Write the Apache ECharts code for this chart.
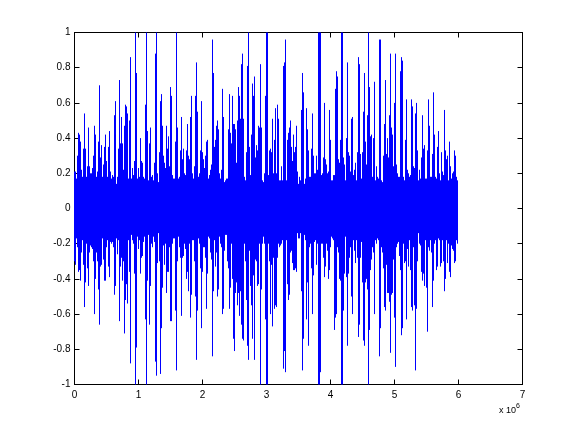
<!DOCTYPE html>
<html><head><meta charset="utf-8">
<style>html,body{margin:0;padding:0;background:#fff}#c{width:576px;height:432px}</style>
<script src="https://cdn.jsdelivr.net/npm/echarts@6/dist/echarts.min.js"></script>
</head><body><div id="c"></div>
<script>
const sampleStep = 15625;
const xTickValues = [0,1,2,3,4,5,6,7];
const yTickValues = [-1,-0.8,-0.6,-0.4,-0.2,0,0.2,0.4,0.6,0.8,1];
const upper = [.21,.21,.17,.3,.43,.42,.38,.22,.18,.34,.54,.34,.18,.24,.46,.24,.2,.2,.23,.3,.47,.42,.18,.21,.38,.70,.29,.36,.18,.25,.35,.42,.27,.18,.35,.44,.21,.17,.19,.18,.53,.61,.14,.18,.34,.73,.37,.52,.37,.22,.47,.59,.58,.54,.17,.5,.86,.17,.23,.19,.27,1,.77,.17,.23,.18,.4,.27,.26,.18,.17,.59,1,.44,.16,.37,.46,.18,.19,.16,.26,.88,1,.2,.15,.32,.61,.65,.47,.3,.26,.23,.47,.34,.41,.24,.69,.64,.19,.17,.17,.38,1,.46,.17,.18,.33,.52,.28,.34,.2,.19,.33,.48,.3,.28,.52,.64,.2,.17,.24,.64,.83,.55,.18,.2,.33,.61,.32,.28,.23,.3,.38,.39,.17,.19,.22,.25,.96,.77,.35,.39,.47,.5,.45,.2,.17,.22,.68,.52,.15,.16,.17,.17,.45,.65,.43,.37,.64,.48,.48,.45,.26,.5,.69,.64,.51,.82,.88,.51,.18,.16,.32,.81,1,.35,.19,.42,.71,.64,.75,.29,.36,.33,.47,.46,.82,.46,.16,.15,.2,.64,1,1,.19,.33,.34,.32,.51,.2,.39,.57,.2,.59,.51,.16,
.16,.24,.16,.81,.83,.96,.16,.39,.43,.46,.5,.35,.27,.42,.32,.35,.47,.21,.14,.18,.16,.56,.77,.66,.14,.17,.57,.45,.33,.18,.18,.34,.54,.3,.2,.2,.3,.22,1,1,1,.19,.2,.29,.6,.28,.25,.2,.21,.56,.39,.16,.16,.19,.19,.68,.78,.75,.28,.26,.39,1,1,.29,.25,.16,.4,.83,.32,.3,.21,.51,.52,.19,.22,.26,.16,.32,.86,.82,.31,.17,.32,.55,.77,.38,.25,.53,1,.69,.41,.42,.18,.4,.72,.16,.24,.18,.17,.96,.96,.16,.15,.3,.48,.73,.31,.4,.29,.53,.88,.46,.42,.24,.6,.88,.25,.2,.18,.18,.78,.86,.84,.18,.16,.39,.62,.22,.2,.18,.19,.62,.58,.24,.23,.54,.6,.33,.16,.22,.17,.29,.53,.34,.36,.17,.17,.33,.62,.47,.18,.18,.31,.66,.42,.18,.17,.35,.44,.2,.16,.32,.21,.19,.56,.33,.28,.3,.16,.38,.24,.17,.2,.21,.33,.3,.18,.16];
const lower = [-.3,-.32,-.17,-.22,-.36,-.35,-.41,-.25,-.18,-.32,-.56,-.42,-.2,-.34,-.44,-.25,-.21,-.22,-.23,-.3,-.6,-.4,-.25,-.3,-.46,-.66,-.33,-.32,-.17,-.29,-.41,-.41,-.22,-.18,-.33,-.39,-.19,-.2,-.19,-.22,-.49,-.44,-.17,-.26,-.18,-.64,-.33,-.28,-.41,-.3,-.71,-.52,-.43,-.54,-.18,-.36,-.88,-.15,-.18,-.2,-.37,-1,-.79,-.16,-.23,-.18,-.37,-.28,-.27,-.19,-.16,-.63,-1,-.41,-.15,-.66,-.44,-.2,-.22,-.16,-.19,-.87,-.95,-.31,-.14,-.3,-.94,-.68,-.45,-.21,-.32,-.2,-.48,-.36,-.36,-.22,-.64,-.64,-.2,-.17,-.17,-.58,-.92,-.3,-.16,-.22,-.28,-.61,-.28,-.27,-.2,-.23,-.4,-.36,-.47,-.2,-.62,-.49,-.18,-.18,-.3,-.5,-.86,-.58,-.17,-.2,-.34,-.68,-.36,-.22,-.22,-.28,-.57,-.37,-.16,-.17,-.25,-.29,-.84,-.47,-.18,-.33,-.25,-.5,-.46,-.16,-.2,-.22,-.6,-.57,-.24,-.15,-.15,-.3,-.34,-.57,-.45,-.2,-.4,-.74,-.81,-.48,-.42,-.55,-.48,-.61,-.47,-.66,-.74,-.75,-.2,-.3,-.52,-.78,-.86,-.24,-.44,-.55,-.74,-.38,-.86,-.29,-.3,-.44,-.43,-.2,-1,-.46,-.2,-.16,-.2,-.63,-1,-1,-.2,-.3,-.6,-.32,-.67,-.28,-.57,-.55,-.56,-.28,-.2,
-.22,-.21,-.2,-.18,-.91,-.81,-.93,-.18,-.43,-.52,-.49,-.25,-.24,-.31,-.35,-.35,-.34,-.36,-.14,-.17,-.17,-.14,-.47,-.92,-.74,-.15,-.18,-.63,-.42,-.78,-.22,-.2,-.34,-.6,-.38,-.19,-.18,-.32,-.2,-1,-1,-.93,-.2,-.2,-.28,-.39,-.33,-.2,-.24,-.4,-.35,-.22,-.16,-.17,-.18,-.69,-.62,-.6,-.22,-.25,-.4,-.41,-1,-1,-.58,-.37,-.16,-.39,-.78,-.37,-.28,-.22,-.5,-.6,-.18,-.24,-.31,-.18,-.28,-.73,-.66,-.28,-.19,-.42,-.75,-.78,-.42,-.4,-.46,-1,-.69,-.35,-.29,-.22,-.25,-.6,-.18,-.2,-.17,-.18,-.84,-.68,-.22,-.25,-.34,-.56,-.58,-.32,-.48,-.48,-.53,-.82,-.49,-.48,-.29,-.62,-.9,-.22,-.2,-.19,-.27,-.35,-.72,-.68,-.2,-.31,-.3,-.63,-.23,-.33,-.18,-.35,-.56,-.58,-.22,-.55,-.92,-.57,-.3,-.14,-.2,-.21,-.36,-.41,-.37,-.44,-.18,-.45,-.7,-.22,-.24,-.18,-.25,-.56,-.41,-.2,-.18,-.35,-.33,-.17,-.18,-.33,-.31,-.18,-.3,-.47,-.4,-.18,-.31,-.2,-.36,-.39,-.21,-.23,-.24,-.31,-.3,-.18,-.2];

const signal = [];
for (let i = 0; i < Math.min(upper.length, lower.length); i++) {
  const x = i * sampleStep;
  signal.push([x, upper[i]], [x, lower[i]], [x, null]);
}
const font = {fontFamily:'"Liberation Sans",Arial,sans-serif', fontSize:10, color:'#000'};
const line = {show:true, onZero:false, lineStyle:{color:'#000', width:1}};
const xBase = {type:'value', min:0, max:7e6, interval:1e6, splitLine:{show:false}, axisLine:line,
  axisTick:{show:true, inside:true, length:5, lineStyle:{color:'#000', width:1}}};
const yBase = {type:'value', min:-1, max:1, interval:0.2, splitLine:{show:false}, axisLine:line,
  axisTick:{show:true, inside:true, length:5, lineStyle:{color:'#000', width:1}}};
const chart = echarts.init(document.getElementById('c'), null, {renderer:'canvas'});
chart.setOption({
  animation:false,
  backgroundColor:'#fff',
  grid:{left:74.5, top:32.5, width:448, height:352, containLabel:false},
  xAxis:[
    Object.assign({}, xBase, {position:'bottom', axisLabel:Object.assign({}, font, {margin:6, formatter:v => String(Math.round(v/1e6))})}),
    Object.assign({}, xBase, {position:'top', axisLabel:{show:false}})
  ],
  yAxis:[
    Object.assign({}, yBase, {position:'left', axisLabel:Object.assign({}, font, {margin:4, padding:[2,0,0,0], formatter:v => String(Math.round(v*10)/10)})}),
    Object.assign({}, yBase, {position:'right', axisLabel:{show:false}})
  ],
  series:[{type:'line', xAxisIndex:0, yAxisIndex:0, data:signal, showSymbol:false, symbol:'none',
    sampling:false, connectNulls:false, clip:true, smooth:false,
    lineStyle:{color:'#0000ff', width:1, cap:'butt'}, silent:true}],
  graphic:[
    {type:'text', left:499, top:406, style:{text:'x 10', font:'9px "Liberation Sans",Arial,sans-serif', fill:'#000'}},
    {type:'text', left:516, top:403, style:{text:'6', font:'7px "Liberation Sans",Arial,sans-serif', fill:'#000'}}
  ]
});
</script></body></html>
